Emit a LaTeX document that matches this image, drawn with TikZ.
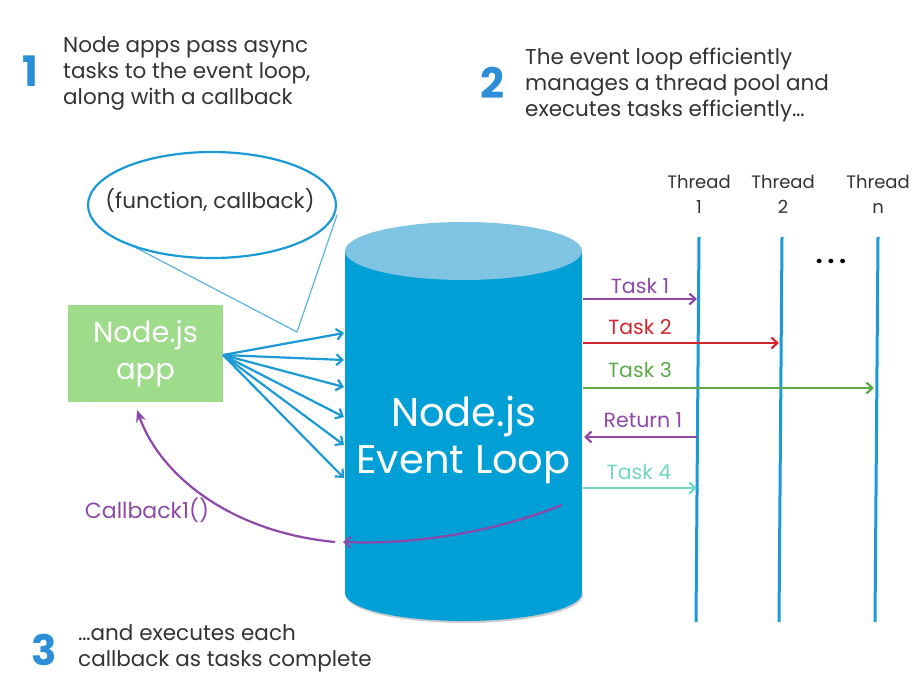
\documentclass[tikz,border=0pt]{standalone}
\usepackage{fontspec}
\setmainfont{Poppins}
\usetikzlibrary{arrows.meta}
\definecolor{numblue}{HTML}{2B8ED6}
\definecolor{txtgray}{HTML}{333333}
\definecolor{lineblue}{HTML}{1B9AD6}
\definecolor{tailblue}{HTML}{5DB4E0}
\definecolor{cylbody}{HTML}{009FD6}
\definecolor{cyltop}{HTML}{80C4E4}
\definecolor{appgreen}{HTML}{9EDB8A}
\definecolor{cbpurple}{HTML}{8E48A8}
\definecolor{tred}{HTML}{D22630}
\definecolor{tgreen}{HTML}{5BAA47}
\definecolor{tteal}{HTML}{72D6C4}
\tikzset{
  num/.style={text=numblue, font=\fontsize{42}{42}\selectfont\bfseries, inner sep=0},
  para/.style={text=txtgray, font=\fontsize{21.5}{26}\selectfont, align=left, inner sep=0, anchor=west},
  thr/.style={text=txtgray, font=\fontsize{18}{25}\selectfont, align=center, inner sep=0},
  tlabel/.style={font=\fontsize{20.5}{22}\selectfont, inner sep=0},
  threadline/.style={draw=lineblue, line width=3pt},
  fan/.style={draw=lineblue, line width=2.2pt, -{Straight Barb[length=6pt,width=11pt,line width=2.2pt]}},
  task/.style={line width=2.2pt, -{Straight Barb[length=6pt,width=11pt,line width=2.2pt]}},
}
\begin{document}
\begin{tikzpicture}[x=1pt,y=-1pt]
\useasboundingbox (0,0) rectangle (920,696);
% headings
\node[num] (n1) at (30,71) {1};
\node[para] (t1) at (63,73) {Node apps pass async\\tasks to the event loop,\\along with a callback};
\node[num] (n2) at (492,83) {2};
\node[para] (t2) at (525,85) {The event loop efficiently\\manages a thread pool and\\executes tasks efficiently…};
\node[num] (n3) at (44,650) {3};
\node[para] (t3) at (78,648) {…and executes each\\callback as tasks complete};

% callout
\coordinate (tl) at (127,243);
\coordinate (tip) at (297,332);
\coordinate (tr) at (337,215);
\draw[tailblue, line width=1.2pt, fill=white] (tl) -- (tip) -- (tr);
\draw[lineblue, line width=2.2pt, fill=white] (212,205) ellipse [x radius=124pt, y radius=53pt];
\node[text=txtgray, font=\fontsize{21.5}{24}\selectfont, inner sep=0] (fc) at (210,200) {(function, callback)};

% app box
\node[fill=appgreen, minimum width=155pt, minimum height=97pt, inner sep=0,
      text=white, font=\fontsize{29}{37}\selectfont, align=center] (app) at (145.5,353.5) {Node.js\\app};

% cylinder
\fill[gray!40] (464.5,595) ellipse [x radius=118.5pt, y radius=28pt];
\fill[cylbody] (345,251) rectangle (582,593);
\fill[cylbody] (463.5,593) ellipse [x radius=118.5pt, y radius=28pt];
\fill[cyltop] (463.5,251) ellipse [x radius=118.5pt, y radius=29pt];
\node[text=white, font=\fontsize{40}{47}\selectfont, align=center, inner sep=0] (loop) at (463.5,440) {Node.js\\Event Loop};

% fan arrows
\coordinate (fo) at (223,355);
\foreach \yy/\nm in {333/a,360/b,387/c,417/d,445/e,478/f}{
  \coordinate (in\nm) at (344,\yy);
  \draw[fan] (fo) -- (in\nm);
}

% threads
\coordinate (th1t) at (699,237); \coordinate (th1b) at (696,622);
\coordinate (th2t) at (782,237); \coordinate (th2b) at (779,622);
\coordinate (thnt) at (878,237); \coordinate (thnb) at (875,622);
\draw[threadline] (th1t) -- (th1b);
\draw[threadline] (th2t) -- (th2b);
\draw[threadline] (thnt) -- (thnb);
\node[thr] (h1) at (699,194) {Thread\\1};
\node[thr] (h2) at (783,194) {Thread\\2};
\node[thr] (hn) at (878,194) {Thread\\n};
\node[inner sep=0, text=black, font=\fontsize{24}{24}\selectfont\bfseries] (dots) at (831,261) {.\hspace{5pt}.\hspace{5pt}.};

% tasks
\coordinate (s1) at (583,299); \coordinate (e1) at (697,299);
\coordinate (s2) at (583,343); \coordinate (e2) at (779,343);
\coordinate (s3) at (583,388); \coordinate (e3) at (874,388);
\coordinate (s4) at (697,437); \coordinate (e4) at (584,437);
\coordinate (s5) at (583,488); \coordinate (e5) at (697,488);
\draw[task, cbpurple] (s1) -- (e1);
\draw[task, tred] (s2) -- (e2);
\draw[task, tgreen] (s3) -- (e3);
\draw[task, cbpurple] (s4) -- (e4);
\draw[task, tteal] (s5) -- (e5);
\node[tlabel, text=cbpurple] (l1) at (640,286) {Task 1};
\node[tlabel, text=tred] (l2) at (640,327) {Task 2};
\node[tlabel, text=tgreen] (l3) at (640,370) {Task 3};
\node[tlabel, text=cbpurple] (l4) at (643,420) {Return 1};
\node[tlabel, text=tteal] (l5) at (639,472) {Task 4};

% callback
\coordinate (cbs) at (562,505);
\coordinate (cbe) at (343,542);
\coordinate (cbo) at (335,542);
\coordinate (appb) at (137,410);
\draw[task, cbpurple] (cbs) .. controls (500,530) and (420,545) .. (cbe);
\draw[cbpurple, line width=2.2pt, -{Stealth[length=12pt,width=10pt]}] (cbo) .. controls (230,532) and (160,475) .. (appb);
\node[text=cbpurple, font=\fontsize{22}{24}\selectfont, inner sep=0] (cbl) at (147,510) {Callback1()};
\end{tikzpicture}
\end{document}
